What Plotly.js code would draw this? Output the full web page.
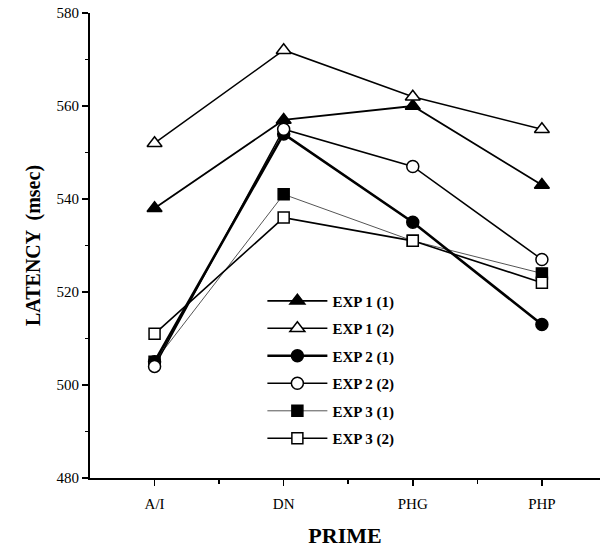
<!DOCTYPE html>
<html><head><meta charset="utf-8">
<script src="https://cdn.plot.ly/plotly-3.0.1.min.js"></script>
<style>body{margin:0;background:#fff}#chart{width:606px;height:555px}</style>
</head><body><div id="chart"></div>
<script>
const categories = ["A/I", "DN", "PHG", "PHP"];
const seriesNames = ["EXP 1 (1)", "EXP 1 (2)", "EXP 2 (1)", "EXP 2 (2)", "EXP 3 (1)", "EXP 3 (2)"];
const exp1_1 = [538, 557, 560, 543];
const exp1_2 = [552, 572, 562, 555];
const exp2_1 = [505, 554, 535, 513];
const exp2_2 = [504, 555, 547, 527];
const exp3_1 = [505, 541, 531, 524];
const exp3_2 = [511, 536, 531, 522];

const seriesValues = [exp1_1, exp1_2, exp2_1, exp2_2, exp3_1, exp3_2];
const styles = [
  {sym: "triangle-up", fill: "#000", lw: 1.8, lc: "#000", size: 13},
  {sym: "triangle-up", fill: "#fff", lw: 1.5, lc: "#000", size: 13},
  {sym: "circle", fill: "#000", lw: 2.6, lc: "#000", size: 12},
  {sym: "circle", fill: "#fff", lw: 1.5, lc: "#000", size: 12},
  {sym: "square", fill: "#000", lw: 1, lc: "#555", size: 11},
  {sym: "square", fill: "#fff", lw: 1.6, lc: "#000", size: 11}
];
const xIdx = categories.map((c, i) => i);
const order = [4, 5, 0, 1, 2, 3];
const traces = order.map(i => ({
  x: xIdx, y: seriesValues[i], name: seriesNames[i], type: "scatter", mode: "lines+markers",
  legendgroup: "g" + i, legendrank: i + 1,
  line: {color: styles[i].lc, width: styles[i].lw},
  marker: {symbol: styles[i].sym, size: styles[i].size, color: styles[i].fill, line: {color: "#000", width: 1.5}}
}));

const serif = "Liberation Serif, Times New Roman, serif";
const layout = {
  width: 606, height: 555,
  margin: {l: 90, r: 6, t: 13, b: 77},
  paper_bgcolor: "#fff", plot_bgcolor: "#fff",
  font: {family: serif, color: "#000"},
  showlegend: true,
  legend: {x: 0.338, y: 0.416, xanchor: "left", yanchor: "top", tracegroupgap: 5, itemwidth: 60,
    font: {family: serif, size: 15, weight: "bold"}, bgcolor: "rgba(0,0,0,0)"},
  xaxis: {
    range: [-0.5, 3.45], tickvals: xIdx, ticktext: categories,
    showline: true, linecolor: "#000", linewidth: 2, showgrid: false, zeroline: false,
    ticks: "outside", ticklen: 6, tickwidth: 1.5, tickcolor: "#000", ticklabelstandoff: 5,
    tickfont: {family: serif, size: 15},
    minor: {tickvals: [0.5, 1.5, 2.5], ticks: "outside", ticklen: 4, tickcolor: "#000", showgrid: false},
    title: {text: "PRIME", font: {family: serif, size: 22, weight: "bold"}, standoff: 17}
  },
  yaxis: {
    range: [480, 580], tickvals: [480, 500, 520, 540, 560, 580],
    showline: true, linecolor: "#000", linewidth: 2, showgrid: false, zeroline: false,
    ticks: "outside", ticklen: 6, tickwidth: 1.5, tickcolor: "#000",
    tickfont: {family: serif, size: 15},
    minor: {dtick: 10, tick0: 480, ticks: "outside", ticklen: 3, tickcolor: "#000", showgrid: false},
    title: {text: "LATENCY  (msec)", font: {family: serif, size: 20, weight: "bold"}, standoff: 11}
  }
};
Plotly.newPlot("chart", traces, layout, {displayModeBar: false, staticPlot: true});
</script></body></html>
